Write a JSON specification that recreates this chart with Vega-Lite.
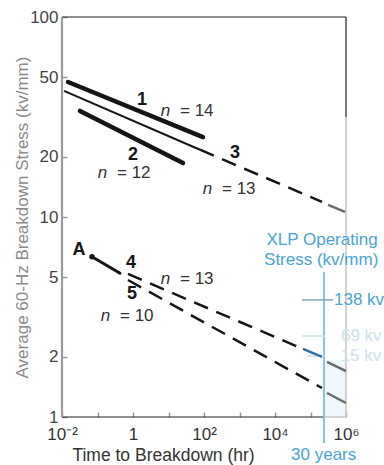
{
  "$schema": "https://vega.github.io/schema/vega-lite/v6.json",
  "width": 284,
  "height": 400,
  "autosize": {"type": "none"},
  "padding": {"left": 62, "top": 17, "right": 38, "bottom": 48},
  "background": "white",
  "config": {
    "view": {"stroke": null},
    "font": "Liberation Sans",
    "axis": {"labelFont": "Liberation Sans", "titleFont": "Liberation Sans"}
  },
  "datasets": {
    "segs": [
      {"id": "top", "t": 0.01, "s": 100, "t2": 1000000, "s2": 100},
      {"id": "rtop", "t": 1000000, "s": 100, "t2": 1000000, "s2": 31.6},
      {"id": "rbot", "t": 1000000, "s": 31.6, "t2": 1000000, "s2": 1},
      {"id": "bblack", "t": 0.01, "s": 1, "t2": 240000, "s2": 1},
      {"id": "bgray", "t": 240000, "s": 1, "t2": 1000000, "s2": 1},
      {"id": "left", "t": 0.01, "s": 1, "t2": 0.01, "s2": 100},
      {"id": "cyan", "t": 240000, "s": 5.31, "t2": 240000, "s2": 0.741},
      {"id": "op138", "t": 57700, "s": 3.85, "t2": 430000, "s2": 3.85},
      {"id": "op69", "t": 57700, "s": 2.54, "t2": 260000, "s2": 2.54},
      {"id": "op15", "t": 80000, "s": 2.02, "t2": 260000, "s2": 2.02},
      {"id": "L1", "t": 0.01476, "s": 47.3, "t2": 93.8, "s2": 25.1},
      {"id": "L2", "t": 0.0321, "s": 33.9, "t2": 25.6, "s2": 18.6},
      {"id": "L3solid", "t": 0.01138, "s": 42.7, "t2": 77.1, "s2": 21.7},
      {"id": "L3dash", "t": 77.1, "s": 21.7, "t2": 211000, "s2": 11.9},
      {"id": "L3gray", "t": 311000, "s": 11.5, "t2": 937000, "s2": 10.6},
      {"id": "LA", "t": 0.07, "s": 6.33, "t2": 0.4305, "s2": 5.23},
      {"id": "L4dash", "t": 0.723, "s": 5.19, "t2": 50600, "s2": 2.22},
      {"id": "L4blue", "t": 61500, "s": 2.19, "t2": 211000, "s2": 2.0},
      {"id": "L4gray", "t": 292000, "s": 1.884, "t2": 1000000, "s2": 1.698},
      {"id": "L5dash", "t": 0.723, "s": 4.84, "t2": 211000, "s2": 1.396},
      {"id": "L5gray", "t": 292000, "s": 1.318, "t2": 1000000, "s2": 1.175}
    ],
    "labels": [
      {"text": "1", "t": 1.8, "s": 38.5, "kind": "num"},
      {"text": "2", "t": 1.0, "s": 20.4, "kind": "num"},
      {"text": "3", "t": 747, "s": 20.9, "kind": "num"},
      {"text": "A", "t": 0.03, "s": 6.84, "kind": "num"},
      {"text": "4", "t": 0.88, "s": 5.89, "kind": "num"},
      {"text": "5", "t": 0.94, "s": 4.12, "kind": "num"},
      {"text": "n", "t": 8.23, "s": 32.0, "kind": "ni"},
      {"text": "=  14", "t": 21.1, "s": 32.0, "kind": "eq"},
      {"text": "n", "t": 0.1384, "s": 15.67, "kind": "ni"},
      {"text": "=  12", "t": 0.354, "s": 15.67, "kind": "eq"},
      {"text": "n", "t": 125.6, "s": 13.03, "kind": "ni"},
      {"text": "=  13", "t": 321, "s": 13.03, "kind": "eq"},
      {"text": "n", "t": 8.23, "s": 4.62, "kind": "ni"},
      {"text": "=  13", "t": 21.1, "s": 4.62, "kind": "eq"},
      {"text": "n", "t": 0.168, "s": 3.02, "kind": "ni"},
      {"text": "=  10", "t": 0.4305, "s": 3.02, "kind": "eq"},
      {"text": "XLP Operating", "t": 211000, "s": 7.67, "kind": "cyan"},
      {"text": "Stress (kv/mm)", "t": 200000, "s": 6.1, "kind": "cyan"},
      {"text": "30 years", "t": 235000, "s": 0.646, "kind": "cyan"},
      {"text": "138 kv", "t": 460000, "s": 3.85, "kind": "cyanleft"},
      {"text": "69 kv", "t": 720000, "s": 2.54, "kind": "faint"},
      {"text": "15 kv", "t": 700000, "s": 2.02, "kind": "faint"}
    ],
    "band": [
      {"t": 240000, "t2": 1000000, "s": 1, "s2": 1.93}
    ],
    "dots": [
      {"t": 0.07, "s": 6.33}
    ]
  },
  "encoding": {
    "x": {
      "field": "t", "type": "quantitative",
      "title": "Time to Breakdown (hr)",
      "scale": {"type": "log", "domain": [0.01, 1000000], "nice": false},
      "axis": {
        "values": [0.01, 0.1, 1, 10, 100, 1000, 10000, 100000, 1000000],
        "labelExpr": "datum.value == 0.01 ? '10⁻²' : datum.value == 1 ? '1' : datum.value == 100 ? '10²' : datum.value == 10000 ? '10⁴' : datum.value == 1000000 ? '10⁶' : ''",
        "domain": false, "grid": false,
        "tickSize": -5, "tickColor": "#999", "tickWidth": 1.5,
        "labelPadding": 14, "labelFontSize": 17, "labelColor": "#333",
        "labelFlush": false, "labelOverlap": false,
        "titleFontSize": 17.5, "titleFontWeight": "normal", "titleColor": "#333",
        "titleX": 101, "titleY": 43, "titleBaseline": "alphabetic", "titleAnchor": null
      }
    },
    "y": {
      "field": "s", "type": "quantitative",
      "title": "Average 60-Hz Breakdown Stress (kv/mm)",
      "scale": {"type": "log", "domain": [1, 100], "nice": false},
      "axis": {
        "values": [1, 2, 5, 10, 20, 50, 100],
        "labelExpr": "datum.value",
        "domain": false, "grid": false,
        "tickSize": -5, "tickColor": "#999", "tickWidth": 1.5,
        "labelPadding": 9, "labelFontSize": 17, "labelColor": "#444",
        "labelOverlap": false,
        "titleFontSize": 17, "titleFontWeight": "normal", "titleColor": "#8a8a8a",
        "titleX": -40, "titleY": 200, "titleAngle": -90, "titleBaseline": "middle", "titleAlign": "center"
      }
    }
  },
  "layer": [
    {
      "data": {"name": "band"},
      "mark": {"type": "rect", "color": "#eef7fa"},
      "encoding": {"x2": {"field": "t2"}, "y2": {"field": "s2"}}
    },
    {
      "data": {"name": "segs"},
      "transform": [{"filter": "indexof(['top','rtop','bblack'], datum.id) >= 0"}],
      "mark": {"type": "rule", "color": "#222", "strokeWidth": 1.2},
      "encoding": {"x2": {"field": "t2"}, "y2": {"field": "s2"}, "detail": {"field": "id"}}
    },
    {
      "data": {"name": "segs"},
      "transform": [{"filter": "indexof(['rbot','bgray'], datum.id) >= 0"}],
      "mark": {"type": "rule", "color": "#c4c4c4", "strokeWidth": 1.5},
      "encoding": {"x2": {"field": "t2"}, "y2": {"field": "s2"}, "detail": {"field": "id"}}
    },
    {
      "data": {"name": "segs"},
      "transform": [{"filter": "datum.id == 'left'"}],
      "mark": {"type": "rule", "color": "#9a9a9a", "strokeWidth": 2.2},
      "encoding": {"x2": {"field": "t2"}, "y2": {"field": "s2"}}
    },
    {
      "data": {"name": "segs"},
      "transform": [{"filter": "datum.id == 'cyan'"}],
      "mark": {"type": "rule", "color": "#86c6df", "strokeWidth": 2},
      "encoding": {"x2": {"field": "t2"}, "y2": {"field": "s2"}}
    },
    {
      "data": {"name": "segs"},
      "transform": [{"filter": "datum.id == 'op138'"}],
      "mark": {"type": "rule", "color": "#7fa9bb", "strokeWidth": 1.5},
      "encoding": {"x2": {"field": "t2"}, "y2": {"field": "s2"}}
    },
    {
      "data": {"name": "segs"},
      "transform": [{"filter": "indexof(['op69','op15'], datum.id) >= 0"}],
      "mark": {"type": "rule", "color": "#c9dfe8", "strokeWidth": 1.5},
      "encoding": {"x2": {"field": "t2"}, "y2": {"field": "s2"}, "detail": {"field": "id"}}
    },
    {
      "data": {"name": "segs"},
      "transform": [{"filter": "indexof(['L1','L2'], datum.id) >= 0"}],
      "mark": {"type": "rule", "color": "#151515", "strokeWidth": 4.5, "strokeCap": "round"},
      "encoding": {"x2": {"field": "t2"}, "y2": {"field": "s2"}, "detail": {"field": "id"}}
    },
    {
      "data": {"name": "segs"},
      "transform": [{"filter": "datum.id == 'L3solid'"}],
      "mark": {"type": "rule", "color": "#151515", "strokeWidth": 2},
      "encoding": {"x2": {"field": "t2"}, "y2": {"field": "s2"}}
    },
    {
      "data": {"name": "segs"},
      "transform": [{"filter": "datum.id == 'LA'"}],
      "mark": {"type": "rule", "color": "#151515", "strokeWidth": 3, "strokeCap": "round"},
      "encoding": {"x2": {"field": "t2"}, "y2": {"field": "s2"}}
    },
    {
      "data": {"name": "segs"},
      "transform": [{"filter": "indexof(['L3dash','L4dash','L5dash'], datum.id) >= 0"}],
      "mark": {"type": "rule", "color": "#151515", "strokeWidth": 2.5, "strokeDash": [15, 9]},
      "encoding": {"x2": {"field": "t2"}, "y2": {"field": "s2"}, "detail": {"field": "id"}}
    },
    {
      "data": {"name": "segs"},
      "transform": [{"filter": "datum.id == 'L4blue'"}],
      "mark": {"type": "rule", "color": "#2f6fa5", "strokeWidth": 2.5},
      "encoding": {"x2": {"field": "t2"}, "y2": {"field": "s2"}}
    },
    {
      "data": {"name": "segs"},
      "transform": [{"filter": "indexof(['L3gray','L4gray','L5gray'], datum.id) >= 0"}],
      "mark": {"type": "rule", "color": "#6a6a6a", "strokeWidth": 2.5},
      "encoding": {"x2": {"field": "t2"}, "y2": {"field": "s2"}, "detail": {"field": "id"}}
    },
    {
      "data": {"name": "dots"},
      "mark": {"type": "point", "filled": true, "color": "#151515", "size": 30, "opacity": 1}
    },
    {
      "data": {"name": "labels"},
      "transform": [{"filter": "datum.kind == 'num'"}],
      "mark": {"type": "text", "fontSize": 18, "fontWeight": "bold", "color": "#151515", "align": "center", "baseline": "middle"},
      "encoding": {"text": {"field": "text"}}
    },
    {
      "data": {"name": "labels"},
      "transform": [{"filter": "datum.kind == 'ni'"}],
      "mark": {"type": "text", "fontSize": 17, "fontStyle": "italic", "color": "#333", "align": "center", "baseline": "alphabetic"},
      "encoding": {"text": {"field": "text"}}
    },
    {
      "data": {"name": "labels"},
      "transform": [{"filter": "datum.kind == 'eq'"}],
      "mark": {"type": "text", "fontSize": 17, "color": "#333", "align": "left", "baseline": "alphabetic"},
      "encoding": {"text": {"field": "text"}}
    },
    {
      "data": {"name": "labels"},
      "transform": [{"filter": "datum.kind == 'cyan'"}],
      "mark": {"type": "text", "fontSize": 17, "color": "#4aa4d4", "align": "center", "baseline": "middle"},
      "encoding": {"text": {"field": "text"}}
    },
    {
      "data": {"name": "labels"},
      "transform": [{"filter": "datum.kind == 'cyanleft'"}],
      "mark": {"type": "text", "fontSize": 17, "color": "#4aa4d4", "align": "left", "baseline": "middle"},
      "encoding": {"text": {"field": "text"}}
    },
    {
      "data": {"name": "labels"},
      "transform": [{"filter": "datum.kind == 'faint'"}],
      "mark": {"type": "text", "fontSize": 17, "color": "#cde3ec", "align": "left", "baseline": "middle"},
      "encoding": {"text": {"field": "text"}}
    }
  ]
}
